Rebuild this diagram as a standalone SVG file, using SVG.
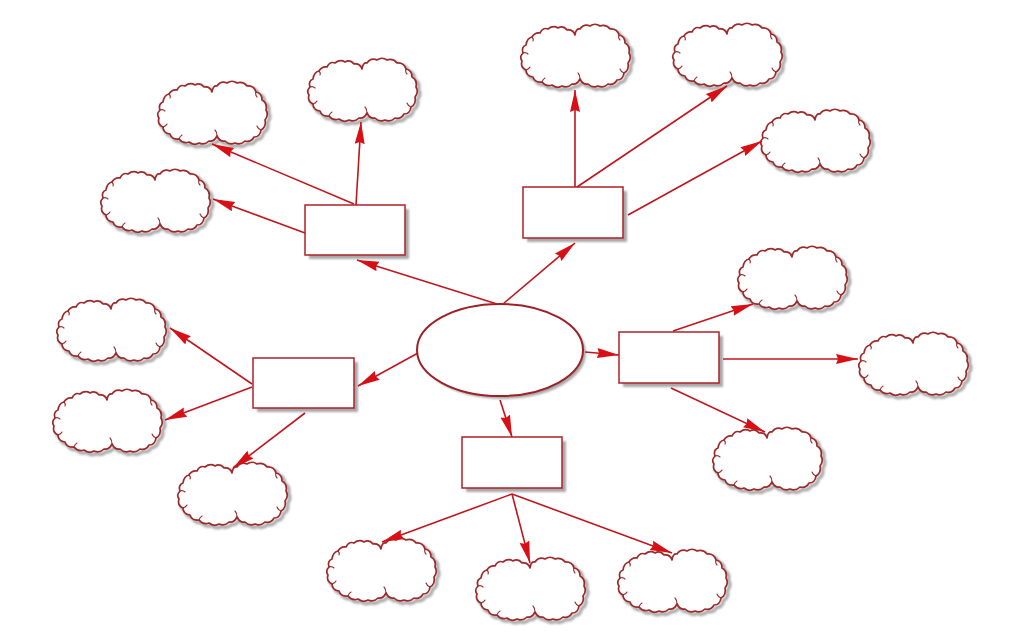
<svg xmlns="http://www.w3.org/2000/svg" xmlns:xlink="http://www.w3.org/1999/xlink" width="1024" height="639" viewBox="0 0 1024 639">
<style>
.sh{fill:none;stroke:#8e8e8e;stroke-width:3.5;opacity:0.75}
.shf{fill:#9a9a9a;stroke:none;opacity:0.85}
.cl{fill:#ffffff;stroke:#9c2a2a;stroke-width:1.7;stroke-linejoin:round}
.cd{fill:none;stroke:#9c2a2a;stroke-width:1.1;stroke-linecap:round}
.bx{fill:#ffffff;stroke:#b0202a;stroke-width:1.5}
.el{fill:#ffffff;stroke:#9c2228;stroke-width:2}
.cn{fill:none;stroke:#c0161e;stroke-width:1.6;marker-end:url(#ah)}
</style>
<defs>
<filter id="blur" x="-10%" y="-10%" width="130%" height="130%"><feGaussianBlur stdDeviation="1"/></filter>
<marker id="ah" markerUnits="userSpaceOnUse" markerWidth="24" markerHeight="12" refX="22" refY="6" orient="auto">
<path d="M0,1 L22,6 L0,11 L2,6 Z" fill="#d80f14"/>
</marker>
<path id="cloudPath" d="M6 22 Q7 15 12 14 Q15 9 20 10 Q23 4 28 6 Q33 2 38 5 Q43 2 47 7 Q53 6 55 12 Q56 5 60 6 Q64 0.5 70 3 Q75 -0.5 80 3 Q86 1 90 6 Q97 5.5 99 12 Q105 13 105 20 Q110.5 23 109 30 Q112 35 108 40 Q109.5 47 104 50 Q103 57 97 57 Q94 62.5 88 61 Q83.5 65.5 78 63 Q72.5 65.5 68 61 Q63 62 60 56 Q57 62 52 61 Q47.5 65.5 42 63 Q37 66 32 62 Q26 64 22 59 Q15 60 13 54 Q6 53 6 47 Q0 44 2 38 Q-1 34 3 30 Q1 24 6 22 Z"/>
<path id="cloudDetail" d="M3 30 Q6 29 8 31 M6 47 Q9 46 10 44 M60 56 Q60 52 58 50 M104 50 Q101 49 100 46 M22 59 Q23 56 25 55 M99 12 Q98 15 100 17 M12 14 Q14 16 13 18"/>
</defs>
<rect width="1024" height="639" fill="#ffffff"/>

<g id="center">
<ellipse cx="503" cy="353" rx="83" ry="46" class="shf" filter="url(#blur)"/>
<ellipse cx="500" cy="350" rx="83" ry="46" class="el"/>
</g>

<g id="box1"><rect x="309" y="209" width="100" height="50" class="shf" filter="url(#blur)"/><rect x="305" y="205" width="100" height="50" class="bx"/></g>
<g id="box2"><rect x="527" y="191" width="100" height="51" class="shf" filter="url(#blur)"/><rect x="523" y="187" width="100" height="51" class="bx"/></g>
<g id="box3"><rect x="257" y="362" width="101" height="50" class="shf" filter="url(#blur)"/><rect x="253" y="358" width="101" height="50" class="bx"/></g>
<g id="box4"><rect x="623" y="336" width="100" height="51" class="shf" filter="url(#blur)"/><rect x="619" y="332" width="100" height="51" class="bx"/></g>
<g id="box5"><rect x="466" y="441" width="100" height="51" class="shf" filter="url(#blur)"/><rect x="462" y="437" width="100" height="51" class="bx"/></g>

<g id="cloud1" transform="translate(157,80)"><use xlink:href="#cloudPath" x="2.5" y="2.5" class="sh" filter="url(#blur)"/><use xlink:href="#cloudPath" class="cl"/><use xlink:href="#cloudDetail" class="cd"/></g>
<g id="cloud2" transform="translate(307,57)"><use xlink:href="#cloudPath" x="2.5" y="2.5" class="sh" filter="url(#blur)"/><use xlink:href="#cloudPath" class="cl"/><use xlink:href="#cloudDetail" class="cd"/></g>
<g id="cloud3" transform="translate(100,168)"><use xlink:href="#cloudPath" x="2.5" y="2.5" class="sh" filter="url(#blur)"/><use xlink:href="#cloudPath" class="cl"/><use xlink:href="#cloudDetail" class="cd"/></g>
<g id="cloud4" transform="translate(520,23)"><use xlink:href="#cloudPath" x="2.5" y="2.5" class="sh" filter="url(#blur)"/><use xlink:href="#cloudPath" class="cl"/><use xlink:href="#cloudDetail" class="cd"/></g>
<g id="cloud5" transform="translate(672,22)"><use xlink:href="#cloudPath" x="2.5" y="2.5" class="sh" filter="url(#blur)"/><use xlink:href="#cloudPath" class="cl"/><use xlink:href="#cloudDetail" class="cd"/></g>
<g id="cloud6" transform="translate(760,108)"><use xlink:href="#cloudPath" x="2.5" y="2.5" class="sh" filter="url(#blur)"/><use xlink:href="#cloudPath" class="cl"/><use xlink:href="#cloudDetail" class="cd"/></g>
<g id="cloud7" transform="translate(737,245)"><use xlink:href="#cloudPath" x="2.5" y="2.5" class="sh" filter="url(#blur)"/><use xlink:href="#cloudPath" class="cl"/><use xlink:href="#cloudDetail" class="cd"/></g>
<g id="cloud8" transform="translate(858,331)"><use xlink:href="#cloudPath" x="2.5" y="2.5" class="sh" filter="url(#blur)"/><use xlink:href="#cloudPath" class="cl"/><use xlink:href="#cloudDetail" class="cd"/></g>
<g id="cloud9" transform="translate(712,426)"><use xlink:href="#cloudPath" x="2.5" y="2.5" class="sh" filter="url(#blur)"/><use xlink:href="#cloudPath" class="cl"/><use xlink:href="#cloudDetail" class="cd"/></g>
<g id="cloud10" transform="translate(56,297)"><use xlink:href="#cloudPath" x="2.5" y="2.5" class="sh" filter="url(#blur)"/><use xlink:href="#cloudPath" class="cl"/><use xlink:href="#cloudDetail" class="cd"/></g>
<g id="cloud11" transform="translate(52,388)"><use xlink:href="#cloudPath" x="2.5" y="2.5" class="sh" filter="url(#blur)"/><use xlink:href="#cloudPath" class="cl"/><use xlink:href="#cloudDetail" class="cd"/></g>
<g id="cloud12" transform="translate(177,461)"><use xlink:href="#cloudPath" x="2.5" y="2.5" class="sh" filter="url(#blur)"/><use xlink:href="#cloudPath" class="cl"/><use xlink:href="#cloudDetail" class="cd"/></g>
<g id="cloud13" transform="translate(326,537)"><use xlink:href="#cloudPath" x="2.5" y="2.5" class="sh" filter="url(#blur)"/><use xlink:href="#cloudPath" class="cl"/><use xlink:href="#cloudDetail" class="cd"/></g>
<g id="cloud14" transform="translate(475,556)"><use xlink:href="#cloudPath" x="2.5" y="2.5" class="sh" filter="url(#blur)"/><use xlink:href="#cloudPath" class="cl"/><use xlink:href="#cloudDetail" class="cd"/></g>
<g id="cloud15" transform="translate(617,548)"><use xlink:href="#cloudPath" x="2.5" y="2.5" class="sh" filter="url(#blur)"/><use xlink:href="#cloudPath" class="cl"/><use xlink:href="#cloudDetail" class="cd"/></g>

<g id="connectors">
<line class="cn" x1="497" y1="304" x2="357" y2="260"/>
<line class="cn" x1="503" y1="304" x2="575" y2="243"/>
<line class="cn" x1="418" y1="353" x2="358" y2="386"/>
<line class="cn" x1="585" y1="352" x2="619" y2="355"/>
<line class="cn" x1="500" y1="400" x2="512" y2="437"/>
<line class="cn" x1="356" y1="205" x2="361" y2="122"/>
<line class="cn" x1="354" y1="204" x2="212" y2="144"/>
<line class="cn" x1="305" y1="233" x2="213" y2="199"/>
<line class="cn" x1="575" y1="187" x2="575" y2="90"/>
<line class="cn" x1="577" y1="187" x2="727" y2="86"/>
<line class="cn" x1="628" y1="215" x2="762" y2="141"/>
<line class="cn" x1="673" y1="331" x2="753" y2="304"/>
<line class="cn" x1="723" y1="359" x2="858" y2="359"/>
<line class="cn" x1="671" y1="388" x2="765" y2="432"/>
<line class="cn" x1="252" y1="384" x2="170" y2="328"/>
<line class="cn" x1="252" y1="387" x2="165" y2="420"/>
<line class="cn" x1="305" y1="413" x2="233" y2="468"/>
<line class="cn" x1="512" y1="494" x2="382" y2="542"/>
<line class="cn" x1="512" y1="494" x2="530" y2="563"/>
<line class="cn" x1="512" y1="494" x2="672" y2="553"/>
</g>
</svg>
